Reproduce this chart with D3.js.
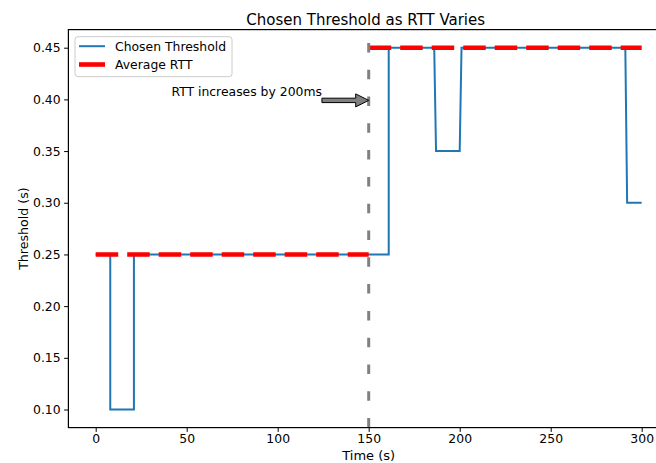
<!DOCTYPE html>
<html>
<head>
<meta charset="utf-8">
<script src="https://cdn.jsdelivr.net/npm/d3@7"></script>
<style>
  body { margin: 0; background: #fff; }
  svg { display: block; font-family: "DejaVu Sans", sans-serif; }
</style>
</head>
<body>
<div id="container"></div>
<script>
// chosen threshold over time (s, threshold s)
const thresholdTime  = [0, 8, 8, 21, 21, 161, 161, 186, 187, 200, 201, 291, 292, 300];
const thresholdValue = [0.25, 0.25, 0.10, 0.10, 0.25, 0.25, 0.45, 0.45, 0.35, 0.35, 0.45, 0.45, 0.30, 0.30];

// average RTT, drawn as separate segments
const rttStart = [0, 150];
const rttEnd   = [150, 300];
const rttValue = [0.25, 0.45];

const changeTime = 150;
const annotText = "RTT increases by 200ms";
const annotFrom = [124.3, 0.40];
const annotTo   = [150, 0.40];

const xTicks = [0, 50, 100, 150, 200, 250, 300];
const yTicks = [0.10, 0.15, 0.20, 0.25, 0.30, 0.35, 0.40, 0.45];

const seriesNames = ["Chosen Threshold", "Average RTT"];

var width = 656, height = 463;
var plotLeft = 68.4, plotRight = 669, plotTop = 29.6, plotBottom = 427.6;

const svg = d3.select("div#container").append("svg")
    .attr("width", width)
    .attr("height", height);

// matplotlib-like 5% margins
var xmin = d3.min(thresholdTime), xmax = d3.max(thresholdTime);
var ymin = d3.min(thresholdValue), ymax = d3.max(thresholdValue);
var xpad = (xmax - xmin) * 0.05, ypad = (ymax - ymin) * 0.05;

const x = d3.scaleLinear().domain([xmin - xpad, xmax + xpad]).range([plotLeft, plotRight]);
const y = d3.scaleLinear().domain([ymin - ypad, ymax + ypad]).range([plotBottom, plotTop]);

const line = d3.line().x(d => x(d[0])).y(d => y(d[1]));

const plot = svg.append("g");

// threshold step line
const thrPoints = thresholdTime.map((t, i) => [t, thresholdValue[i]]);
plot.append("path")
    .attr("d", line(thrPoints))
    .attr("fill", "none")
    .attr("stroke", "#1f77b4")
    .attr("stroke-width", 2);

// average RTT
plot.selectAll("path.rtt")
    .data(rttValue)
    .join("path")
    .attr("class", "rtt")
    .attr("d", (v, i) => line([[rttStart[i], v], [rttEnd[i], v]]))
    .attr("fill", "none")
    .attr("stroke", "#ff0000")
    .attr("stroke-width", 4.6)
    .attr("stroke-dasharray", "22.5,9");

// vertical marker, drawn bottom to top like axvline
plot.append("line")
    .attr("x1", x(changeTime)).attr("x2", x(changeTime))
    .attr("y1", plotBottom).attr("y2", plotTop)
    .attr("stroke", "#808080")
    .attr("stroke-width", 3)
    .attr("stroke-dasharray", "9.5,17.3");

// annotation with arrow
var ax0 = x(annotFrom[0]), ax1 = x(annotTo[0]), ay = y(annotTo[1]) + 1;
var headLen = 13, headHalf = 6.5, shaftHalf = 2.2;
svg.append("path")
    .attr("d", [
        "M", ax0, ay - shaftHalf,
        "L", ax1 - headLen, ay - shaftHalf,
        "L", ax1 - headLen, ay - headHalf,
        "L", ax1, ay,
        "L", ax1 - headLen, ay + headHalf,
        "L", ax1 - headLen, ay + shaftHalf,
        "L", ax0, ay + shaftHalf, "Z"].join(" "))
    .attr("fill", "#808080")
    .attr("stroke", "#000")
    .attr("stroke-width", 1);

svg.append("text")
    .attr("x", ax0)
    .attr("y", y(annotFrom[1]) - 3)
    .attr("text-anchor", "end")
    .attr("font-size", 12.4)
    .attr("fill", "#000")
    .text(annotText);

// axes
const xAxis = d3.axisBottom(x).tickValues(xTicks).tickSize(4.3).tickPadding(2.5).tickFormat(d3.format("d"));
const yAxis = d3.axisLeft(y).tickValues(yTicks).tickSize(4.3).tickPadding(3.5).tickFormat(d3.format(".2f"));

const gx = svg.append("g").attr("transform", `translate(0,${plotBottom})`).call(xAxis);
const gy = svg.append("g").attr("transform", `translate(${plotLeft},0)`).call(yAxis);
[gx, gy].forEach(g => {
    g.select(".domain").remove();
    g.selectAll(".tick line").attr("stroke", "#000").attr("stroke-width", 1);
    g.selectAll(".tick text").attr("font-size", 12.4).attr("font-family", "DejaVu Sans").attr("fill", "#000");
});

// spines
svg.append("rect")
    .attr("x", plotLeft).attr("y", plotTop)
    .attr("width", plotRight - plotLeft).attr("height", plotBottom - plotTop)
    .attr("fill", "none")
    .attr("stroke", "#000")
    .attr("stroke-width", 1.2);

// title and labels
svg.append("text")
    .attr("x", (plotLeft + plotRight) / 2 - 3)
    .attr("y", 24.5)
    .attr("text-anchor", "middle")
    .attr("font-size", 15)
    .text("Chosen Threshold as RTT Varies");

svg.append("text")
    .attr("x", (plotLeft + plotRight) / 2)
    .attr("y", 459.5)
    .attr("text-anchor", "middle")
    .attr("font-size", 13)
    .text("Time (s)");

svg.append("text")
    .attr("transform", `translate(28,${(plotTop + plotBottom) / 2}) rotate(-90)`)
    .attr("text-anchor", "middle")
    .attr("font-size", 12.6)
    .text("Threshold (s)");

// legend
const legend = svg.append("g").attr("transform", "translate(75,36.7)");
legend.append("rect")
    .attr("width", 157).attr("height", 40)
    .attr("rx", 3)
    .attr("fill", "#fff").attr("fill-opacity", 0.8)
    .attr("stroke", "#cccccc").attr("stroke-width", 1);

const legendStyle = [
    { color: "#1f77b4", w: 2 },
    { color: "#ff0000", w: 4.6 }
];
const item = legend.selectAll("g.item")
    .data(seriesNames)
    .join("g")
    .attr("class", "item")
    .attr("transform", (d, i) => `translate(0,${9.5 + i * 18.3})`);
item.append("line")
    .attr("x1", 4).attr("x2", 30)
    .attr("stroke", (d, i) => legendStyle[i].color)
    .attr("stroke-width", (d, i) => legendStyle[i].w);
item.append("text")
    .attr("x", 40)
    .attr("y", 4.5)
    .attr("font-size", 12.4)
    .text(d => d);
</script>
</body>
</html>
